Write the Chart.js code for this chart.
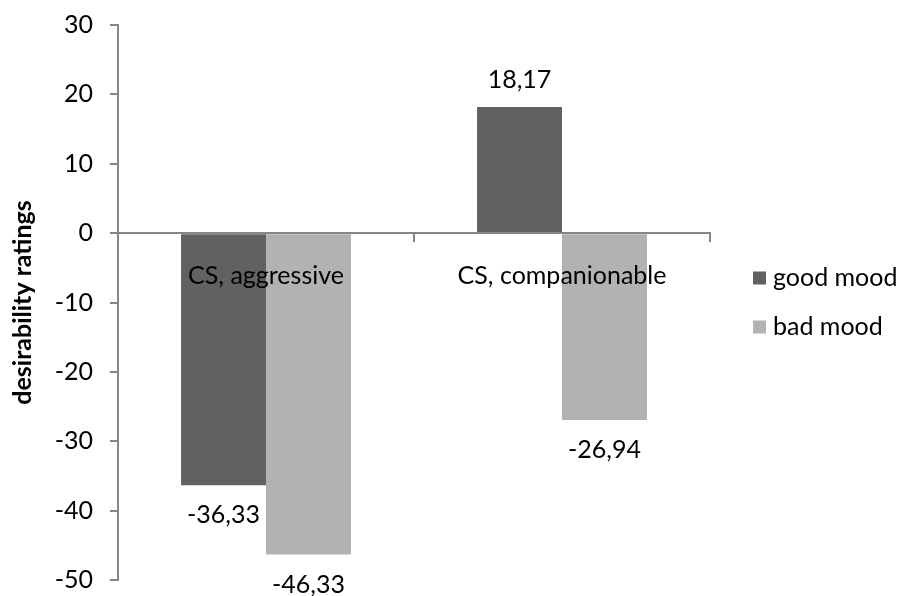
<!DOCTYPE html>
<html>
<head>
<meta charset="utf-8">
<script src="https://cdn.jsdelivr.net/npm/chart.js@4.4.1/dist/chart.umd.min.js"></script>
<style>
  html, body { margin: 0; padding: 0; background: #ffffff; }
  #wrap { width: 900px; height: 596px; position: relative; }
</style>
</head>
<body>
<div id="wrap"><canvas id="chart" width="900" height="596"></canvas></div>
<script>
// Desirability ratings by conditioned stimulus and mood
const categories = ['CS, aggressive', 'CS, companionable'];
const goodMood = [-36.33, 18.17];
const badMood = [-46.33, -26.94];
const seriesNames = ['good mood', 'bad mood'];
const yTicks = { min: -50, max: 30, step: 10 };

const FONT = 'Lato, "Open Sans", sans-serif';
const TEXT_SIZE = 25;
const AXIS_GREY = '#868686';
const COLOURS = ['#616161', '#b2b2b2'];

function fmt(v) {
  return v.toFixed(2).replace('.', ',');
}

// value labels above positive bars, below negative ones
const valueLabels = {
  id: 'valueLabels',
  afterDatasetsDraw(chart) {
    const ctx = chart.ctx;
    ctx.save();
    ctx.font = TEXT_SIZE + 'px ' + FONT;
    ctx.fillStyle = '#000000';
    ctx.textAlign = 'center';
    ctx.textBaseline = 'middle';
    chart.data.datasets.forEach((ds, i) => {
      const meta = chart.getDatasetMeta(i);
      meta.data.forEach((bar, j) => {
        const v = ds.data[j];
        const y = v >= 0 ? bar.y - 27 : bar.y + 30;
        ctx.fillText(fmt(v), bar.x, y);
      });
    });
    ctx.restore();
  }
};

// legend on the right, one square swatch per series
const sideLegend = {
  id: 'sideLegend',
  afterDraw(chart) {
    const ctx = chart.ctx;
    ctx.save();
    ctx.font = TEXT_SIZE + 'px ' + FONT;
    ctx.textBaseline = 'middle';
    ctx.textAlign = 'left';
    const x0 = 753;
    const rows = [278, 327];
    chart.data.datasets.forEach((ds, i) => {
      const cy = rows[i];
      ctx.fillStyle = ds.backgroundColor;
      ctx.fillRect(x0, cy - 6.5, 13, 13);
      ctx.fillStyle = '#000000';
      ctx.fillText(ds.label, x0 + 20, cy);
    });
    ctx.restore();
  }
};

new Chart(document.getElementById('chart'), {
  type: 'bar',
  data: {
    labels: categories,
    datasets: [
      { label: seriesNames[0], data: goodMood, backgroundColor: COLOURS[0] },
      { label: seriesNames[1], data: badMood, backgroundColor: COLOURS[1] }
    ]
  },
  options: {
    responsive: false,
    animation: false,
    events: [],
    layout: { padding: { top: 25, right: 190, bottom: 16, left: 0 } },
    datasets: { bar: { categoryPercentage: 0.574, barPercentage: 1.0, borderWidth: 0 } },
    plugins: {
      legend: { display: false },
      tooltip: { enabled: false }
    },
    scales: {
      x: {
        position: { y: 0 },
        afterFit(scale) { scale.paddingLeft = 0; scale.paddingRight = 0; },
        grid: {
          display: true,
          offset: true,
          drawOnChartArea: false,
          drawTicks: true,
          tickLength: 8,
          color: AXIS_GREY,
          lineWidth: 2
        },
        border: { display: true, color: AXIS_GREY, width: 2, z: 1 },
        ticks: {
          z: 2,
          color: '#000000',
          padding: 20,
          maxRotation: 0,
          font: { family: FONT, size: TEXT_SIZE }
        }
      },
      y: {
        min: yTicks.min,
        max: yTicks.max,
        afterFit(scale) {
          scale.width = 118;
          scale.paddingTop = 0;
          scale.paddingBottom = 0;
        },
        grid: {
          display: true,
          drawOnChartArea: false,
          drawTicks: true,
          tickLength: 8,
          color: AXIS_GREY,
          lineWidth: 2
        },
        border: { display: true, color: AXIS_GREY, width: 2 },
        ticks: {
          stepSize: yTicks.step,
          color: '#000000',
          padding: 17,
          font: { family: FONT, size: TEXT_SIZE },
          callback: v => String(v)
        },
        title: {
          display: true,
          text: 'desirability ratings',
          color: '#000000',
          padding: { top: 8, bottom: 0 },
          font: { family: FONT, size: 25, weight: 'bold' }
        }
      }
    }
  },
  plugins: [valueLabels, sideLegend]
});
</script>
</body>
</html>
